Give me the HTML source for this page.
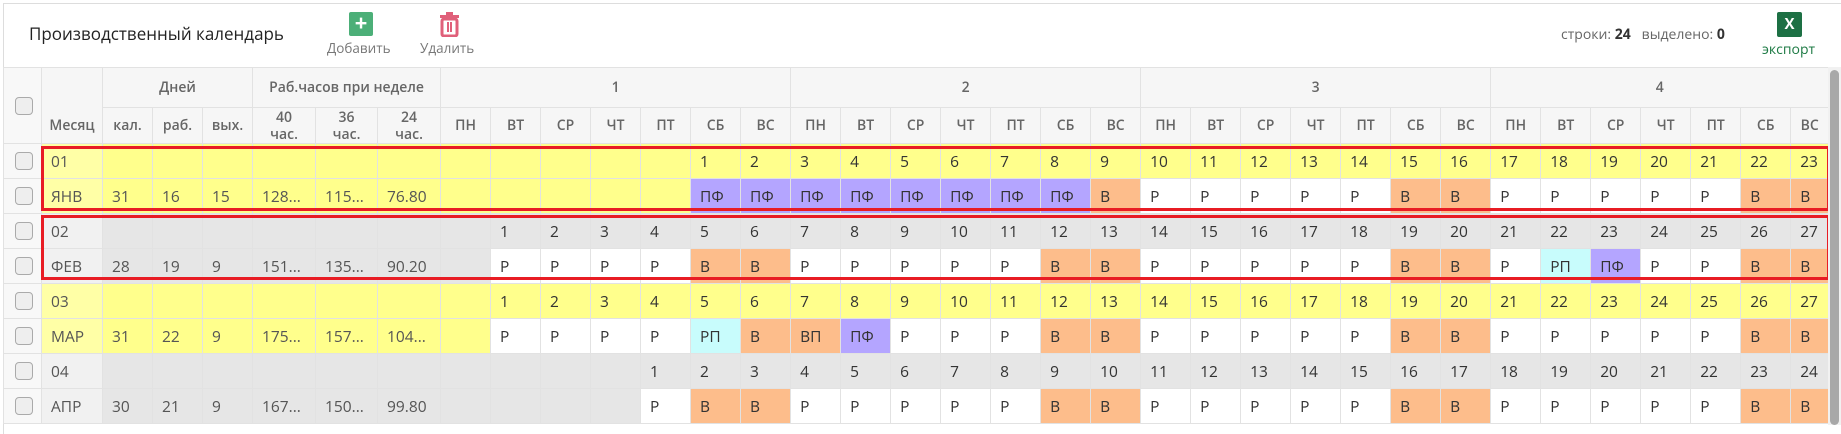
<!DOCTYPE html>
<html><head><meta charset="utf-8">
<style>
body{margin:0;width:1841px;height:425px;overflow:hidden;background:#fff;font-family:"Open Sans","Liberation Sans","DejaVu Sans",sans-serif;position:relative}
.panel{position:absolute;left:3px;top:3px;width:1838px;height:430px;border-top:1px solid #ddd;border-left:1px solid #ddd}
.title{position:absolute;left:29px;top:22px;font-size:17px;color:#222}
.lbl{position:absolute;font-size:13.5px;color:#777}
table{position:absolute;left:3px;top:67px;border-collapse:collapse;table-layout:fixed;width:1825px}
td,th{border:1px solid #e2e2e2;height:34px;padding:0 0 0 9px;font-size:15.5px;color:#333;text-align:left;white-space:nowrap;overflow:hidden;font-weight:normal}
th{background:#f6f6f6;color:#666;text-align:center;padding:0;font-size:14px;font-weight:600}
.cb{background:#f8f8f8;padding:0}
.cbx{width:16px;height:16px;border:1px solid #aaa;border-radius:4px;background:#eee;margin-left:11px}
.y{background:#ffff8c}
.g{background:#e6e6e6}
.ym{background:#ffffa6;color:#555}
.gm{background:#f1f1f1;color:#555}
.f{color:#555}
.w{background:#fff}
.o{background:#fdbd8b}
.p{background:#b4a5ff}
.c{background:#c8fcfc}
.box{position:absolute;border:3px solid #e81c24;box-sizing:border-box}
</style></head><body>
<div class="panel"></div>
<div class="title">Производственный календарь</div>
<div style="position:absolute;left:349px;top:12px;width:24px;height:24px;background:#4caf78;border-radius:2px;color:#fff;font-size:22px;line-height:23px;text-align:center;font-weight:bold">+</div>
<div class="lbl" style="left:327px;top:39px">Добавить</div>
<svg style="position:absolute;left:439px;top:12px" width="21" height="25" viewBox="0 0 21 25"><rect x="1" y="3" width="19" height="3" fill="#e0607a"/><rect x="7" y="0" width="7" height="4" fill="#e0607a"/><rect x="3" y="7" width="15" height="17" rx="2" fill="none" stroke="#e0607a" stroke-width="3"/><rect x="8" y="10" width="2" height="10" fill="#e0607a"/><rect x="11" y="10" width="2" height="10" fill="#e0607a"/></svg>
<div class="lbl" style="left:420px;top:39px">Удалить</div>
<div style="position:absolute;left:1561px;top:25px;font-size:14px;color:#666">строки: <b style="color:#333">24</b>&nbsp;&nbsp; выделено: <b style="color:#333">0</b></div>
<div style="position:absolute;left:1777px;top:12px;width:25px;height:25px;background:#1d7044;border-radius:2px;color:#fff;font-size:15px;line-height:25px;text-align:center;font-weight:bold">X</div>
<div style="position:absolute;left:1762px;top:40px;font-size:14px;color:#1d7a44">экспорт</div>
<table>
<colgroup><col style="width:38px"><col style="width:61px"><col style="width:50px"><col style="width:50px"><col style="width:50px"><col style="width:63px"><col style="width:62px"><col style="width:63px">
<col style="width:50px"><col style="width:50px"><col style="width:50px"><col style="width:50px"><col style="width:50px"><col style="width:50px"><col style="width:50px">
<col style="width:50px"><col style="width:50px"><col style="width:50px"><col style="width:50px"><col style="width:50px"><col style="width:50px"><col style="width:50px">
<col style="width:50px"><col style="width:50px"><col style="width:50px"><col style="width:50px"><col style="width:50px"><col style="width:50px"><col style="width:50px">
<col style="width:50px"><col style="width:50px"><col style="width:50px"><col style="width:50px"><col style="width:50px"><col style="width:50px"><col style="width:38px"></colgroup>
<tr style="height:40px"><th rowspan="2" class="cb"><div class="cbx"></div></th><th rowspan="2" style="vertical-align:bottom;padding-bottom:8px">Месяц</th><th colspan="3">Дней</th><th colspan="3">Раб.часов при неделе</th><th colspan="7">1</th><th colspan="7">2</th><th colspan="7">3</th><th colspan="7">4</th></tr>
<tr style="height:36px"><th>кал.</th><th>раб.</th><th>вых.</th><th style="line-height:17px">40<br>час.</th><th style="line-height:17px">36<br>час.</th><th style="line-height:17px">24<br>час.</th>
<th>ПН</th><th>ВТ</th><th>СР</th><th>ЧТ</th><th>ПТ</th><th>СБ</th><th>ВС</th><th>ПН</th><th>ВТ</th><th>СР</th><th>ЧТ</th><th>ПТ</th><th>СБ</th><th>ВС</th><th>ПН</th><th>ВТ</th><th>СР</th><th>ЧТ</th><th>ПТ</th><th>СБ</th><th>ВС</th><th>ПН</th><th>ВТ</th><th>СР</th><th>ЧТ</th><th>ПТ</th><th>СБ</th><th>ВС</th></tr>
<tr class="y"><td class="cb"><div class="cbx"></div></td><td class="ym">01</td><td></td><td></td><td></td><td></td><td></td><td></td><td></td><td></td><td></td><td></td><td></td><td>1</td><td>2</td><td>3</td><td>4</td><td>5</td><td>6</td><td>7</td><td>8</td><td>9</td><td>10</td><td>11</td><td>12</td><td>13</td><td>14</td><td>15</td><td>16</td><td>17</td><td>18</td><td>19</td><td>20</td><td>21</td><td>22</td><td>23</td></tr>
<tr class="y"><td class="cb"><div class="cbx"></div></td><td class="ym">ЯНВ</td><td class="f">31</td><td class="f">16</td><td class="f">15</td><td class="f">128...</td><td class="f">115...</td><td class="f">76.80</td><td></td><td></td><td></td><td></td><td></td><td class="p">ПФ</td><td class="p">ПФ</td><td class="p">ПФ</td><td class="p">ПФ</td><td class="p">ПФ</td><td class="p">ПФ</td><td class="p">ПФ</td><td class="p">ПФ</td><td class="o">В</td><td class="w">Р</td><td class="w">Р</td><td class="w">Р</td><td class="w">Р</td><td class="w">Р</td><td class="o">В</td><td class="o">В</td><td class="w">Р</td><td class="w">Р</td><td class="w">Р</td><td class="w">Р</td><td class="w">Р</td><td class="o">В</td><td class="o">В</td></tr>
<tr class="g"><td class="cb"><div class="cbx"></div></td><td class="gm">02</td><td></td><td></td><td></td><td></td><td></td><td></td><td></td><td>1</td><td>2</td><td>3</td><td>4</td><td>5</td><td>6</td><td>7</td><td>8</td><td>9</td><td>10</td><td>11</td><td>12</td><td>13</td><td>14</td><td>15</td><td>16</td><td>17</td><td>18</td><td>19</td><td>20</td><td>21</td><td>22</td><td>23</td><td>24</td><td>25</td><td>26</td><td>27</td></tr>
<tr class="g"><td class="cb"><div class="cbx"></div></td><td class="gm">ФЕВ</td><td class="f">28</td><td class="f">19</td><td class="f">9</td><td class="f">151...</td><td class="f">135...</td><td class="f">90.20</td><td></td><td class="w">Р</td><td class="w">Р</td><td class="w">Р</td><td class="w">Р</td><td class="o">В</td><td class="o">В</td><td class="w">Р</td><td class="w">Р</td><td class="w">Р</td><td class="w">Р</td><td class="w">Р</td><td class="o">В</td><td class="o">В</td><td class="w">Р</td><td class="w">Р</td><td class="w">Р</td><td class="w">Р</td><td class="w">Р</td><td class="o">В</td><td class="o">В</td><td class="w">Р</td><td class="c">РП</td><td class="p">ПФ</td><td class="w">Р</td><td class="w">Р</td><td class="o">В</td><td class="o">В</td></tr>
<tr class="y"><td class="cb"><div class="cbx"></div></td><td class="ym">03</td><td></td><td></td><td></td><td></td><td></td><td></td><td></td><td>1</td><td>2</td><td>3</td><td>4</td><td>5</td><td>6</td><td>7</td><td>8</td><td>9</td><td>10</td><td>11</td><td>12</td><td>13</td><td>14</td><td>15</td><td>16</td><td>17</td><td>18</td><td>19</td><td>20</td><td>21</td><td>22</td><td>23</td><td>24</td><td>25</td><td>26</td><td>27</td></tr>
<tr class="y"><td class="cb"><div class="cbx"></div></td><td class="ym">МАР</td><td class="f">31</td><td class="f">22</td><td class="f">9</td><td class="f">175...</td><td class="f">157...</td><td class="f">104...</td><td></td><td class="w">Р</td><td class="w">Р</td><td class="w">Р</td><td class="w">Р</td><td class="c">РП</td><td class="o">В</td><td class="o">ВП</td><td class="p">ПФ</td><td class="w">Р</td><td class="w">Р</td><td class="w">Р</td><td class="o">В</td><td class="o">В</td><td class="w">Р</td><td class="w">Р</td><td class="w">Р</td><td class="w">Р</td><td class="w">Р</td><td class="o">В</td><td class="o">В</td><td class="w">Р</td><td class="w">Р</td><td class="w">Р</td><td class="w">Р</td><td class="w">Р</td><td class="o">В</td><td class="o">В</td></tr>
<tr class="g"><td class="cb"><div class="cbx"></div></td><td class="gm">04</td><td></td><td></td><td></td><td></td><td></td><td></td><td></td><td></td><td></td><td></td><td>1</td><td>2</td><td>3</td><td>4</td><td>5</td><td>6</td><td>7</td><td>8</td><td>9</td><td>10</td><td>11</td><td>12</td><td>13</td><td>14</td><td>15</td><td>16</td><td>17</td><td>18</td><td>19</td><td>20</td><td>21</td><td>22</td><td>23</td><td>24</td></tr>
<tr class="g"><td class="cb"><div class="cbx"></div></td><td class="gm">АПР</td><td class="f">30</td><td class="f">21</td><td class="f">9</td><td class="f">167...</td><td class="f">150...</td><td class="f">99.80</td><td></td><td></td><td></td><td></td><td class="w">Р</td><td class="o">В</td><td class="o">В</td><td class="w">Р</td><td class="w">Р</td><td class="w">Р</td><td class="w">Р</td><td class="w">Р</td><td class="o">В</td><td class="o">В</td><td class="w">Р</td><td class="w">Р</td><td class="w">Р</td><td class="w">Р</td><td class="w">Р</td><td class="o">В</td><td class="o">В</td><td class="w">Р</td><td class="w">Р</td><td class="w">Р</td><td class="w">Р</td><td class="w">Р</td><td class="o">В</td><td class="o">В</td></tr>
</table>
<div class="box" style="left:41px;top:146px;width:1789px;height:65px"></div>
<div class="box" style="left:41px;top:215px;width:1789px;height:65px"></div>
<div style="position:absolute;left:1828px;top:67px;width:13px;height:358px;background:#f1f1f1"></div>
<div style="position:absolute;left:1830px;top:70px;width:9px;height:355px;background:#a8a8a8;border-radius:5px"></div>
</body></html>
